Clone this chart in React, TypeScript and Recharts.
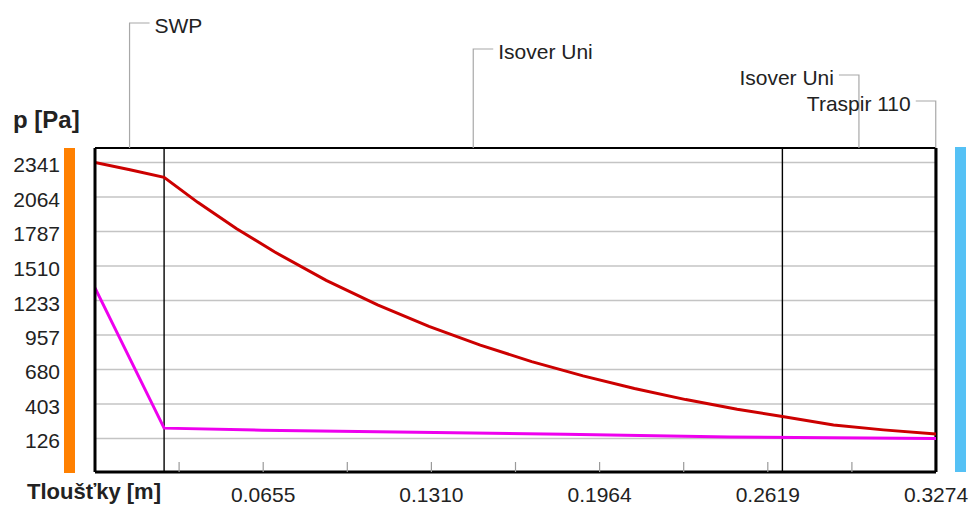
import React from 'react';
import { LineChart, Line, XAxis, YAxis, CartesianGrid, ReferenceLine } from 'recharts';

// ---- data ----
const layerNames = ['SWP', 'Isover Uni', 'Isover Uni', 'Traspir 110'];
const layerBounds = [0, 0.0269, 0.2676, 0.3272, 0.3274];

// saturated vapour pressure (red)
const satX = [0, 0.0136, 0.0269, 0.04, 0.055, 0.07, 0.09, 0.11, 0.13, 0.15, 0.17, 0.19, 0.21, 0.23, 0.25, 0.2676, 0.2875, 0.3069, 0.3274];
const satP = [2341, 2283, 2222, 2021, 1811, 1622, 1395, 1199, 1026, 875, 743, 628, 527, 438, 360, 302, 235, 195, 162];

// partial vapour pressure (magenta)
const parX = [0, 0.0269, 0.065, 0.125, 0.183, 0.247, 0.3274];
const parP = [1335, 209, 193, 176, 159, 138, 126];

const xTickValues = [0.03274, 0.06548, 0.09822, 0.13096, 0.1637, 0.19644, 0.22918, 0.26192, 0.29466, 0.3274];
const xTickLabels = ['', '0.0655', '', '0.1310', '', '0.1964', '', '0.2619', '', '0.3274'];
const yTickValues = [126, 403, 680, 957, 1233, 1510, 1787, 2064, 2341];
const yTickLabels = ['126', '403', '680', '957', '1233', '1510', '1787', '2064', '2341'];

const X_DOMAIN: [number, number] = [0, 0.3274];
const Y_DOMAIN: [number, number] = [-143, 2457];

// ---- styles ----
const FONT = 'Liberation Sans, Arial, sans-serif';
const TEXT_COLOR = '#222';
const layerLabelStyle = [
  { y: 23, side: 'right' },
  { y: 49, side: 'right' },
  { y: 75, side: 'left' },
  { y: 101, side: 'left' },
];

const satData = satX.map((x, i) => ({ x, p: satP[i] }));
const parData = parX.map((x, i) => ({ x, p: parP[i] }));
const layerCenters = layerNames.map((_, i) => (layerBounds[i] + layerBounds[i + 1]) / 2);
const innerBounds = layerBounds.slice(1, -1);

const XTick = (props: any) => {
  const { x, y, index, payload } = props;
  const label = xTickLabels[index] ?? '';
  const axisY = y - 8;
  return (
    <g>
      {payload.value < X_DOMAIN[1] && (
        <line x1={x} x2={x} y1={axisY - 10} y2={axisY} stroke="#9a9a9a" strokeWidth={1.2} />
      )}
      <text x={x} y={axisY + 30} textAnchor="middle" fontSize={21} fontFamily={FONT} fill={TEXT_COLOR}>
        {label}
      </text>
    </g>
  );
};

const YTick = (props: any) => {
  const { x, y, index } = props;
  return (
    <text x={x} y={y} dy={10} textAnchor="end" fontSize={21} fontFamily={FONT} fill={TEXT_COLOR}>
      {yTickLabels[index] ?? ''}
    </text>
  );
};

const makeLayerLabel = (i: number) => (props: any) => {
  const vb = props.viewBox || {};
  const x = vb.x;
  const top = vb.y;
  const s = layerLabelStyle[i];
  const right = s.side === 'right';
  const hx = right ? x + 20 : x - 20;
  const tx = right ? x + 25 : x - 25;
  return (
    <g>
      <path d={`M${x},${top}V${s.y}H${hx}`} stroke="#a8a8a8" strokeWidth={1.2} fill="none" />
      <text x={tx} y={s.y + 9.5} textAnchor={right ? 'start' : 'end'} fontSize={21} fontFamily={FONT} fill={TEXT_COLOR}>
        {layerNames[i]}
      </text>
    </g>
  );
};

export default function App() {
  return (
    <div style={{ position: 'absolute', left: 0, top: 0, width: 972, height: 506, background: '#fff', fontFamily: FONT }}>
      <div style={{ position: 'absolute', left: 64, top: 148, width: 11, height: 325, background: '#ff8000' }} />
      <div style={{ position: 'absolute', left: 955, top: 147, width: 11, height: 325, background: '#55c1f5' }} />
      <div style={{ position: 'absolute', left: 13, top: 108, fontSize: 24, lineHeight: '24px', fontWeight: 'bold', color: TEXT_COLOR, whiteSpace: 'nowrap' }}>
        p [Pa]
      </div>
      <div style={{ position: 'absolute', left: 27, top: 481, fontSize: 22, lineHeight: '22px', fontWeight: 'bold', color: TEXT_COLOR, whiteSpace: 'nowrap' }}>
        Tloušťky [m]
      </div>
      <div style={{ position: 'absolute', left: 0, top: 0 }}>
        <LineChart width={972} height={506} margin={{ top: 148, right: 36, bottom: 0, left: 0 }}>
          <CartesianGrid vertical={false} stroke="#c4c4c4" strokeWidth={1.5} />
          <XAxis
            dataKey="x"
            type="number"
            domain={X_DOMAIN}
            ticks={xTickValues}
            allowDataOverflow
            height={34}
            tickSize={0}
            tickMargin={8}
            tickLine={false}
            axisLine={{ stroke: '#000', strokeWidth: 3 }}
            tick={<XTick />}
            interval={0}
          />
          <YAxis
            type="number"
            domain={Y_DOMAIN}
            ticks={yTickValues}
            allowDataOverflow
            width={95}
            tickSize={0}
            tickMargin={35}
            tickLine={false}
            axisLine={{ stroke: '#000', strokeWidth: 3 }}
            tick={<YTick />}
            interval={0}
          />
          <ReferenceLine y={Y_DOMAIN[1]} stroke="#000" strokeWidth={2} />
          <ReferenceLine x={X_DOMAIN[1]} stroke="#000" strokeWidth={3} />
          {innerBounds.map((b, i) => (
            <ReferenceLine key={'b' + i} x={b} stroke="#000" strokeWidth={1.4} />
          ))}
          {layerCenters.map((c, i) => (
            <ReferenceLine key={'l' + i} x={c} stroke="none" strokeWidth={0} label={makeLayerLabel(i)} />
          ))}
          <Line data={satData} dataKey="p" type="linear" stroke="#cc0000" strokeWidth={3} dot={false} isAnimationActive={false} />
          <Line data={parData} dataKey="p" type="linear" stroke="#ee00ee" strokeWidth={3} dot={false} isAnimationActive={false} />
        </LineChart>
      </div>
    </div>
  );
}
